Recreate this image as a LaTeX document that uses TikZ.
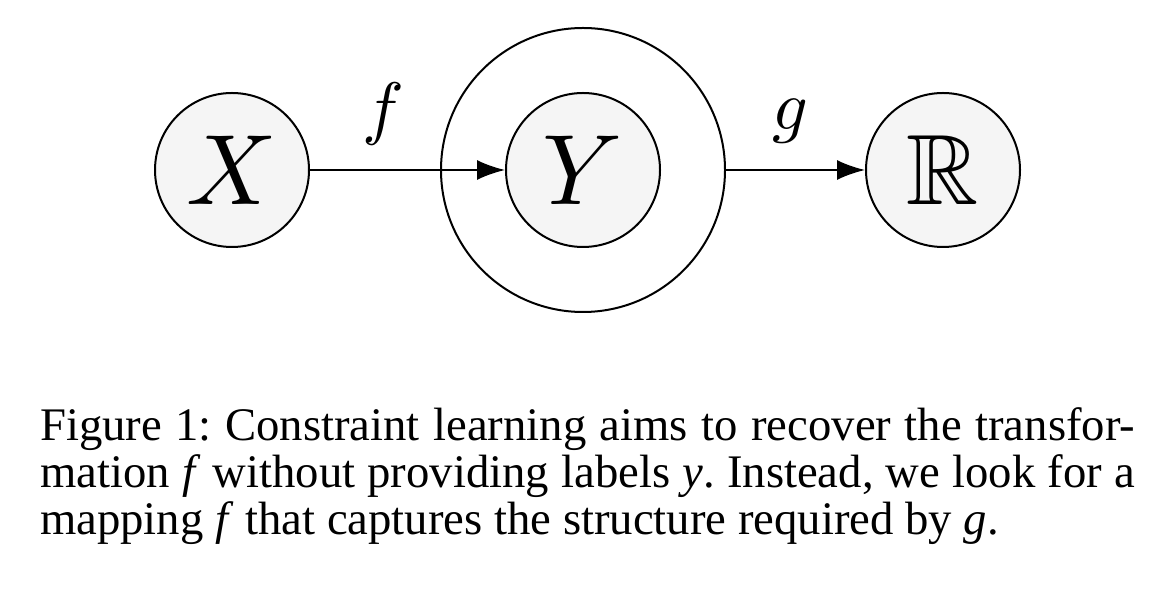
\documentclass[tikz,border=0pt]{standalone}
\usepackage{amssymb}
\usepackage{graphicx}
\usepackage{fontspec}
\setmainfont{Liberation Serif}
\usetikzlibrary{arrows.meta}
\newcommand{\bigmath}[2]{\scalebox{#1}{$#2$}}
\tikzset{
  var/.style={circle, draw, line width=2pt, fill=gray!8, minimum size=154pt, inner sep=0pt},
  plate/.style={circle, draw, line width=2pt, minimum size=284pt, inner sep=0pt},
  edge/.style={line width=2pt, -{Latex[length=28pt,width=20pt]}},
  elabel/.style={inner sep=0pt},
  capline/.style={anchor=base west, inner sep=0pt, font=\fontsize{46.7}{47}\selectfont\frenchspacing}
}
\begin{document}
\begin{tikzpicture}[x=1pt,y=1pt]
\useasboundingbox[fill=white] (0,0) rectangle (1170,594);
\node[plate] (Yo) at (583,424) {};
\node[var] (X) at (232,424) {\bigmath{10}{X}};
\node[var] (Y) at (583,424) {\bigmath{10}{Y}};
\node[var] (R) at (943,424) {\bigmath{10}{\mathbb{R}}};
\draw[edge] (X) -- (Y);
\draw[edge] (Yo) -- (R);
\node[elabel] (f) at (383,480) {\bigmath{7}{f}};
\node[elabel] (g) at (790,473) {\bigmath{7}{g}};
\node[capline] (c1) at (40,153) {\makebox[1095pt][s]{Figure 1: Constraint learning aims to recover the transfor-}};
\node[capline] (c2) at (40,106) {\makebox[1095pt][s]{mation \textit{f} without providing labels \textit{y}. Instead, we look for a}};
\node[capline] (c3) at (40,59) {mapping \textit{f} that captures the structure required by \textit{g}.};
\end{tikzpicture}
\end{document}
